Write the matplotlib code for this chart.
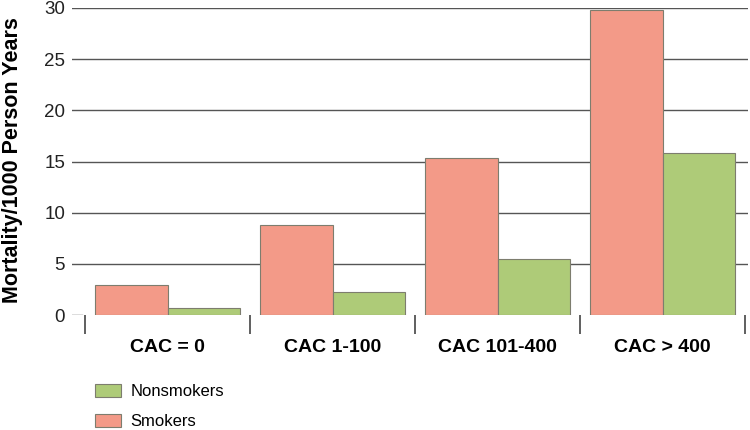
import matplotlib
matplotlib.use("Agg")
import matplotlib.pyplot as plt
from matplotlib.patches import Patch
import numpy as np

plt.rcParams['font.family'] = ['Liberation Sans', 'DejaVu Sans']

# data
categories = ['CAC = 0', 'CAC 1-100', 'CAC 101-400', 'CAC > 400']
smokers = [2.9, 8.8, 15.3, 29.8]
nonsmokers = [0.7, 2.2, 5.5, 15.8]
y_ticks = [0, 5, 10, 15, 20, 25, 30]

smoker_color = '#F39A88'
nonsmoker_color = '#AECB78'
edge_color = '#7d7d6e'

fig = plt.figure(figsize=(7.5, 4.3), dpi=100)
ax = fig.add_axes([72/750, 1 - 315/430, (748-72)/750, (315-8)/430])

x = np.arange(len(categories))
w = 0.44
ax.bar(x - w/2, smokers, width=w, color=smoker_color, edgecolor=edge_color,
       linewidth=0.8, zorder=3)
ax.bar(x + w/2, nonsmokers, width=w, color=nonsmoker_color, edgecolor=edge_color,
       linewidth=0.8, zorder=3)

# horizontal grid lines (not at zero, just a short tick there)
for t in y_ticks[1:]:
    ax.axhline(t, color='#555555', linewidth=1, zorder=1)
ax.plot([-0.579, -0.52], [0, 0], color='#555555', linewidth=1, zorder=1)

ax.set_xlim(-0.5 - 13/165, 3.5 + 3/165)
ax.set_ylim(0, 30)

for s in ax.spines.values():
    s.set_visible(False)

ax.set_yticks(y_ticks)
ax.set_yticklabels([str(t) for t in y_ticks], fontsize=13.5, color='#222222')
ax.tick_params(axis='y', length=0, pad=5)

ax.set_xticks(x)
ax.set_xticklabels(categories, fontsize=14, fontweight='bold')
ax.tick_params(axis='x', which='major', length=0, pad=17)
ax.set_xticks(np.arange(-0.5, 4, 1), minor=True)
ax.tick_params(axis='x', which='minor', length=14, width=1.2, color='#444444',
               direction='out')

fig.text(13/750, 1 - 160/430, 'Mortality/1000 Person Years', rotation=90,
         fontsize=15.5, fontweight='bold', ha='center', va='center')

handles = [Patch(facecolor=nonsmoker_color, edgecolor=edge_color, linewidth=0.8),
           Patch(facecolor=smoker_color, edgecolor=edge_color, linewidth=0.8)]
fig.legend(handles, ['Nonsmokers', 'Smokers'], loc='upper left',
           bbox_to_anchor=(88/750, 1 - 377/430), frameon=False, fontsize=12,
           handlelength=1.6, handleheight=0.85, labelspacing=0.9,
           handletextpad=0.55, borderaxespad=0)

fig.savefig('out.png', dpi=100)
